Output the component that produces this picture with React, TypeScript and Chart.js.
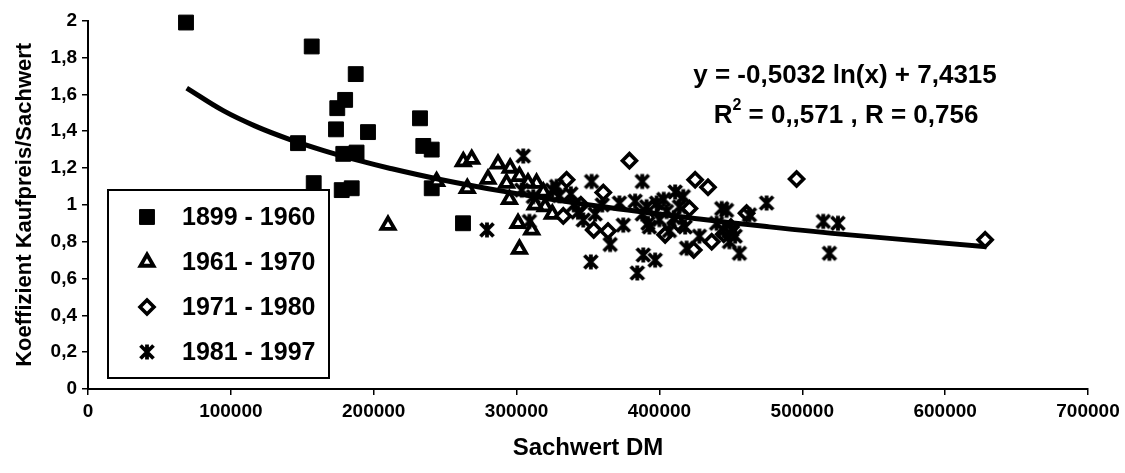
import React, { useEffect, useRef } from 'react';
import { Chart, registerables } from 'chart.js';

Chart.register(...registerables);

const FONT = '"Liberation Sans", Arial, Helvetica, sans-serif';

// ---- data ----
const seriesLabels = ['1899 - 1960', '1961 - 1970', '1971 - 1980', '1981 - 1997'];

const sq1899X = [68600, 156600, 187400, 180000, 174500, 173600, 196000, 147000, 178700, 188000, 158000, 177600, 184600, 232400, 234700, 240600, 240600, 262500];
const sq1899Y = [1.99, 1.86, 1.71, 1.57, 1.525, 1.41, 1.395, 1.335, 1.277, 1.284, 1.118, 1.08, 1.09, 1.47, 1.32, 1.3, 1.09, 0.9];

const tri1961X = [210000, 244000, 262700, 268600, 265500, 280000, 287000, 295500, 295000, 301000, 310600, 302000, 314000, 318700, 320000, 302000, 308000, 293000, 326000, 313000, 325000];
const tri1961Y = [0.89, 1.127, 1.235, 1.248, 1.09, 1.14, 1.222, 1.2, 1.03, 0.9, 0.864, 0.76, 1.118, 1.07, 0.99, 1.155, 1.12, 1.118, 1.05, 1.0, 0.95];

const dia1971X = [335000, 332700, 379000, 360700, 354000, 364000, 425000, 434000, 404000, 436600, 421000, 424000, 461000, 496000, 628000, 345000, 395000, 413000, 445000, 450000];
const dia1971Y = [1.136, 0.94, 1.24, 1.067, 0.864, 0.858, 1.136, 1.096, 0.837, 0.8, 0.98, 0.755, 0.955, 1.14, 0.81, 1.0, 0.98, 0.9, 0.84, 0.88];

const cr1981X = [279300, 304700, 303600, 309000, 311700, 352500, 352000, 365500, 346700, 372000, 374700, 388000, 388700, 397000, 384500, 391000, 393000, 398000, 411000, 416700, 443600, 475000, 463000, 514700, 525000, 519000, 419000, 428000, 456000, 453000, 450600, 447000, 405000, 414000, 392000, 340000, 330000, 360000, 325000, 355000, 328000, 338000, 343000, 383000, 388000, 400000, 403000, 410000, 418000, 407000, 440000, 445000, 449000];
const cr1981Y = [0.864, 1.265, 1.08, 0.91, 1.045, 1.127, 0.69, 0.785, 0.918, 1.01, 0.89, 1.127, 0.728, 0.7, 0.63, 0.99, 0.88, 1.01, 1.07, 1.045, 0.98, 1.01, 0.946, 0.91, 0.9, 0.737, 0.765, 0.83, 0.737, 0.83, 0.864, 0.97, 0.964, 0.99, 0.9, 1.0, 1.05, 1.0, 1.08, 0.95, 1.1, 1.06, 0.96, 1.02, 0.95, 0.92, 1.03, 0.93, 0.88, 0.86, 0.9, 0.86, 0.8];

// trend curve as drawn in the picture
const trendX = [69100, 95000, 118000, 141000, 165000, 188000, 211000, 244000, 291000, 350000, 428000, 475000, 533000, 629000];
const trendY = [1.634, 1.51, 1.425, 1.356, 1.295, 1.244, 1.199, 1.142, 1.073, 1.0, 0.923, 0.882, 0.837, 0.773];

const xTickLabels = ['0', '100000', '200000', '300000', '400000', '500000', '600000', '700000'];
const yTickLabels = ['0', '0,2', '0,4', '0,6', '0,8', '1', '1,2', '1,4', '1,6', '1,8', '2'];

const eqLine1 = 'y = -0,5032 ln(x) + 7,4315';
const eqLine2a = 'R';
const eqLine2sup = '2';
const eqLine2b = ' = 0,,571 , R = 0,756';

const xTitle = 'Sachwert DM';
const yTitle = 'Koeffizient Kaufpreis/Sachwert';

function pts(xs: number[], ys: number[]) {
  return xs.map((x, i) => ({ x, y: ys[i] }));
}

function makeStar(): HTMLCanvasElement {
  const c = document.createElement('canvas');
  c.width = 18;
  c.height = 18;
  const g = c.getContext('2d')!;
  g.strokeStyle = '#000';
  g.lineWidth = 3.8;
  g.beginPath();
  g.moveTo(2.5, 2.5); g.lineTo(15.5, 15.5);
  g.moveTo(15.5, 2.5); g.lineTo(2.5, 15.5);
  g.moveTo(9, 1.5); g.lineTo(9, 16.5);
  g.stroke();
  return c;
}

function drawMarker(ctx: CanvasRenderingContext2D, style: any, x: number, y: number, r: number, fill: string, lw: number) {
  ctx.save();
  ctx.fillStyle = fill;
  ctx.strokeStyle = '#000';
  ctx.lineWidth = lw;
  if (style instanceof HTMLCanvasElement) {
    ctx.drawImage(style, x - style.width / 2, y - style.height / 2);
    ctx.restore();
    return;
  }
  ctx.beginPath();
  if (style === 'rect') {
    const s = Math.SQRT1_2 * r;
    ctx.rect(x - s, y - s, 2 * s, 2 * s);
  } else if (style === 'triangle') {
    const a = (2 * Math.PI) / 3;
    ctx.moveTo(x, y - r);
    ctx.lineTo(x + Math.sin(a) * r, y - Math.cos(a) * r);
    ctx.lineTo(x + Math.sin(2 * a) * r, y - Math.cos(2 * a) * r);
    ctx.closePath();
  } else if (style === 'rectRot') {
    ctx.moveTo(x - r, y);
    ctx.lineTo(x, y - r);
    ctx.lineTo(x + r, y);
    ctx.lineTo(x, y + r);
    ctx.closePath();
  }
  ctx.fill();
  if (lw > 0) ctx.stroke();
  ctx.restore();
}

const overlayPlugin = {
  id: 'overlay',
  afterDatasetsDraw(chart: any) {
    const ctx: CanvasRenderingContext2D = chart.ctx;
    ctx.save();
    ctx.fillStyle = '#000';
    ctx.textBaseline = 'middle';
    // equation
    ctx.font = `bold 26px ${FONT}`;
    ctx.textAlign = 'center';
    ctx.fillText(eqLine1, 845, 76);
    ctx.textAlign = 'left';
    const wA = ctx.measureText(eqLine2a).width;
    const wB = ctx.measureText(eqLine2b).width;
    ctx.font = `bold 16px ${FONT}`;
    const wS = ctx.measureText(eqLine2sup).width;
    const total = wA + wS + wB;
    const x0 = 846 - total / 2;
    ctx.font = `bold 26px ${FONT}`;
    ctx.fillText(eqLine2a, x0, 116);
    ctx.font = `bold 16px ${FONT}`;
    ctx.fillText(eqLine2sup, x0 + wA, 106);
    ctx.font = `bold 26px ${FONT}`;
    ctx.fillText(eqLine2b, x0 + wA + wS, 116);

    // legend box
    const bx = 108, by = 190, bw = 221, bh = 188;
    ctx.fillStyle = '#fff';
    ctx.fillRect(bx, by, bw, bh);
    ctx.strokeStyle = '#000';
    ctx.lineWidth = 2;
    ctx.strokeRect(bx, by, bw, bh);
    const rows = [217, 262, 307, 352];
    const ds = chart.data.datasets.filter((d: any) => d.isSeries);
    ds.forEach((d: any, i: number) => {
      drawMarker(ctx, d.pointStyle, 147, rows[i], d.pointRadius, d.backgroundColor, d.borderWidth);
      ctx.fillStyle = '#000';
      ctx.font = `bold 25px ${FONT}`;
      ctx.textAlign = 'left';
      ctx.textBaseline = 'middle';
      ctx.fillText(d.label, 182, rows[i] + 1);
    });
    ctx.restore();
  },
};

export default function App() {
  const ref = useRef<HTMLCanvasElement | null>(null);
  useEffect(() => {
    if (!ref.current) return;
    const star = makeStar();
    const chart = new Chart(ref.current, {
      type: 'scatter',
      data: {
        datasets: [
          {
            label: 'trend',
            type: 'line',
            data: pts(trendX, trendY),
            showLine: true,
            borderColor: '#000',
            borderWidth: 5,
            pointRadius: 0,
            tension: 0.4,
            fill: false,
            order: 0,
          } as any,
          {
            label: seriesLabels[0], isSeries: true, data: pts(sq1899X, sq1899Y), clip: false,
            pointStyle: 'rect', pointRadius: 10.5, backgroundColor: '#000', borderColor: '#000', borderWidth: 1, order: 4,
          } as any,
          {
            label: seriesLabels[1], isSeries: true, data: pts(tri1961X, tri1961Y), clip: false,
            pointStyle: 'triangle', pointRadius: 7.5, backgroundColor: '#fff', borderColor: '#000', borderWidth: 3.8, order: 3,
          } as any,
          {
            label: seriesLabels[2], isSeries: true, data: pts(dia1971X, dia1971Y), clip: false,
            pointStyle: 'rectRot', pointRadius: 7, backgroundColor: '#fff', borderColor: '#000', borderWidth: 3.6, order: 2,
          } as any,
          {
            label: seriesLabels[3], isSeries: true, data: pts(cr1981X, cr1981Y), clip: false,
            pointStyle: star, pointRadius: 9, backgroundColor: '#000', borderColor: '#000', borderWidth: 0, order: 1,
          } as any,
        ],
      },
      options: {
        animation: false,
        responsive: true,
        maintainAspectRatio: false,
        events: [],
        layout: { padding: { top: 20.7, right: 37, left: 0, bottom: 0 } },
        plugins: { legend: { display: false }, tooltip: { enabled: false } },
        scales: {
          x: {
            type: 'linear',
            min: 0,
            max: 700000,
            afterFit: (s: any) => { s.height = 84; },
            ticks: {
              stepSize: 100000,
              color: '#000',
              padding: 5,
              maxRotation: 0,
              autoSkip: false,
              font: { family: FONT, size: 19, weight: 'bold' },
              callback: (_v: any, i: number) => xTickLabels[i],
            },
            grid: { drawOnChartArea: false, drawTicks: true, tickLength: 6, color: '#000', lineWidth: 1.5 },
            border: { display: true, color: '#000', width: 2 },
            title: {
              display: true,
              text: xTitle,
              color: '#000',
              font: { family: FONT, size: 24, weight: 'bold' },
              padding: { top: 0, bottom: 10 },
            },
          },
          y: {
            type: 'linear',
            min: 0,
            max: 2,
            afterFit: (s: any) => { s.width = 88; },
            ticks: {
              stepSize: 0.2,
              color: '#000',
              padding: 5,
              autoSkip: false,
              font: { family: FONT, size: 19, weight: 'bold' },
              callback: (_v: any, i: number) => yTickLabels[i],
            },
            grid: { drawOnChartArea: false, drawTicks: true, tickLength: 6, color: '#000', lineWidth: 1.5 },
            border: { display: true, color: '#000', width: 2 },
            title: {
              display: true,
              text: yTitle,
              color: '#000',
              font: { family: FONT, size: 22, weight: 'bold' },
              padding: { top: 12, bottom: 0 },
            },
          },
        },
      } as any,
      plugins: [overlayPlugin],
    });
    return () => chart.destroy();
  }, []);
  return (
    <div style={{ position: 'absolute', left: 0, top: 0, width: 1125, height: 473, background: '#fff' }}>
      <canvas ref={ref} />
    </div>
  );
}
